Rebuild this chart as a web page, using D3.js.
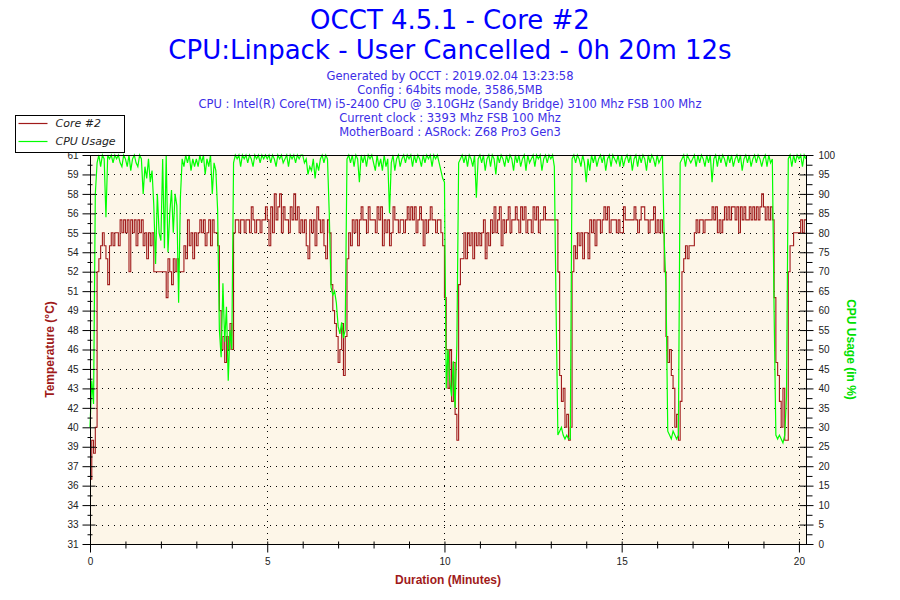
<!DOCTYPE html>
<html>
<head>
<meta charset="utf-8">
<script src="https://cdn.jsdelivr.net/npm/d3@7"></script>
<style>
body { margin: 0; background: #ffffff; }
svg { display: block; }
</style>
</head>
<body>
<div id="chart"></div>
<script>
const titleLines = ["OCCT 4.5.1 - Core #2", "CPU:Linpack - User Cancelled - 0h 20m 12s"]
const infoLines = [
    "Generated by OCCT : 2019.02.04 13:23:58",
    "Config : 64bits mode, 3586,5MB",
    "CPU : Intel(R) Core(TM) i5-2400 CPU @ 3.10GHz (Sandy Bridge) 3100 Mhz FSB 100 Mhz",
    "Current clock : 3393 Mhz FSB 100 Mhz",
    "MotherBoard : ASRock: Z68 Pro3 Gen3"
]
const seriesNames = ["Core #2", "CPU Usage"]
const axisTitles = ["Temperature (°C)", "CPU Usage (in %)", "Duration (Minutes)"]

// one sample every 0.05 min, one row per minute
const sampleStep = 0.05
const coreTemp = [
    36,39,38,40,52,53,54,55,54,53,51,54,55,54,55,55,54,56,55,56,
    55,56,52,56,55,56,54,56,55,56,54,55,53,55,54,55,52,52,52,52,
    52,52,52,50,53,52,51,53,52,53,52,52,52,54,53,56,54,55,53,55,
    54,55,56,55,56,54,55,56,54,56,55,55,54,49,46,47,45,47,46,48,
    46,55,56,56,55,56,56,55,56,56,55,57,56,55,56,56,55,56,56,57,
    56,54,57,55,58,56,57,58,55,57,56,56,55,57,56,58,56,57,55,56,
    55,56,54,53,56,55,56,54,57,56,55,56,54,53,56,55,51,49,48,47,
    45,46,48,44,47,53,55,54,56,55,56,54,56,57,56,56,55,57,56,56,
    56,55,57,56,57,54,56,55,56,54,55,57,56,56,55,56,56,55,56,57,
    56,57,56,57,55,56,57,56,54,56,55,56,57,56,56,55,56,56,55,54,
    50,46,43,46,42,45,41,39,51,53,53,55,53,55,54,55,53,55,54,55,
    54,55,56,53,55,54,56,55,57,55,56,57,54,56,55,56,57,55,56,56,
    57,56,55,57,56,57,55,56,56,55,57,56,57,55,56,56,57,56,56,56,
    56,56,56,56,52,44,42,43,40,41,39,40,52,54,53,55,54,55,53,55,
    55,53,56,55,56,54,56,56,55,56,57,56,57,55,56,56,56,55,56,55,
    55,57,56,56,56,56,56,57,56,55,56,57,57,56,56,55,56,56,57,55,
    56,55,56,55,52,47,45,46,44,43,40,41,39,42,52,53,54,53,54,54,
    54,55,56,55,56,56,55,56,56,56,56,57,56,57,55,56,55,56,57,56,
    57,56,57,57,56,57,55,57,56,57,56,56,57,56,57,56,57,56,57,58,
    57,56,57,56,57,56,50,45,44,42,40,43,39,39,52,54,54,55,55,55,
    55,56,55,56,56
]
const cpuUsage = [
    30,42,36,90,98,100,97,100,99,84,100,99,100,98,100,99,100,98,97,100,
    99,97,100,96,99,100,98,97,100,99,90,97,94,99,93,96,87,72,90,80,
    78,99,76,100,75,85,91,80,90,87,62,89,99,97,100,98,100,96,99,97,
    99,97,100,98,100,95,99,97,100,90,98,96,86,55,48,67,52,61,42,55,
    50,98,100,99,100,97,100,99,100,98,100,99,97,100,99,100,98,100,99,100,
    99,100,98,100,99,97,100,99,100,98,99,100,97,100,99,100,98,100,99,100,
    100,98,99,95,97,96,99,94,98,96,99,100,98,100,99,85,66,64,65,62,
    56,54,57,53,55,99,100,98,100,97,100,99,93,100,98,100,97,100,99,100,
    98,96,100,97,99,96,100,97,99,85,98,100,96,99,100,97,99,100,98,100,
    99,100,97,100,98,100,99,97,100,98,100,99,100,97,100,99,100,98,96,94,
    93,40,50,42,38,47,35,51,98,99,100,98,100,97,100,99,97,100,89,99,
    100,98,100,96,99,100,97,100,99,95,100,98,100,99,97,100,98,100,99,96,
    100,98,100,97,99,100,96,100,98,99,100,97,100,99,100,96,99,100,98,100,
    99,100,97,60,28,29,30,28,27,28,27,27,99,100,98,100,99,97,100,98,
    93,99,96,100,98,100,97,99,100,98,100,96,99,100,97,100,99,98,100,97,
    100,97,99,100,98,100,96,99,100,97,100,98,100,99,96,100,98,100,99,97,
    100,98,99,100,78,66,29,28,27,29,28,27,28,98,99,100,97,100,99,98,
    99,100,97,100,98,100,99,97,100,98,100,93,99,100,97,100,98,100,99,97,
    100,98,100,97,99,100,98,100,96,99,100,98,100,97,99,100,98,100,99,97,
    99,100,97,100,98,99,60,28,27,28,27,26,28,38,99,100,97,100,98,100,
    99,100,97,100,99
]

const timeTicks = [0, 5, 10, 15, 20]
const timeMinorTicks = [1, 2, 3, 4, 6, 7, 8, 9, 11, 12, 13, 14, 16, 17, 18, 19]
const cpuTicks = [0, 5, 10, 15, 20, 25, 30, 35, 40, 45, 50, 55, 60, 65, 70, 75, 80, 85, 90, 95, 100]
const tempTickLabels = ["31", "33", "34", "36", "37", "39", "40", "42", "43", "45", "46",
    "48", "49", "51", "52", "54", "55", "56", "58", "59", "61"]

const svgWidth = 900
const svgHeight = 600
const plot = { left: 90, right: 806, top: 155, bottom: 544 }

const tempColor = "#a01a1a"
const cpuColor = "#00ff00"
const titleColor = "#0000ff"
const infoColor = "#3c2ee6"

const svg = d3.select("#chart").append("svg")
    .attr("width", svgWidth)
    .attr("height", svgHeight)

const x = d3.scaleLinear().domain([0, 20.2]).range([plot.left, plot.right])
const yTemp = d3.scaleLinear().domain([31, 61]).range([plot.bottom, plot.top])
const yCpu = d3.scaleLinear().domain([0, 100]).range([plot.bottom, plot.top])

// titles
svg.selectAll(".title")
    .data(titleLines)
    .join("text")
    .attr("class", "title")
    .attr("x", svgWidth / 2)
    .attr("y", (d, i) => 29 + i * 30)
    .attr("text-anchor", "middle")
    .attr("font-family", "DejaVu Sans")
    .attr("font-size", 26)
    .attr("fill", titleColor)
    .text(d => d)

svg.selectAll(".info")
    .data(infoLines)
    .join("text")
    .attr("class", "info")
    .attr("x", svgWidth / 2)
    .attr("y", (d, i) => 80 + i * 14)
    .attr("text-anchor", "middle")
    .attr("font-family", "DejaVu Sans")
    .attr("font-size", 11.5)
    .attr("fill", infoColor)
    .text(d => d)

// plot background
svg.append("rect")
    .attr("x", plot.left)
    .attr("y", plot.top)
    .attr("width", plot.right - plot.left)
    .attr("height", plot.bottom - plot.top)
    .attr("fill", "#fdf6e8")

// dotted grid
const px = v => Math.round(v) + 0.5
svg.append("g").selectAll("line")
    .data(cpuTicks.slice(1, -1))
    .join("line")
    .attr("x1", plot.left)
    .attr("x2", plot.right)
    .attr("y1", d => px(yCpu(d)))
    .attr("y2", d => px(yCpu(d)))
    .attr("stroke", "#000")
    .attr("stroke-dasharray", "1,5")

svg.append("g").selectAll("line")
    .data(timeTicks.slice(1))
    .join("line")
    .attr("x1", d => px(x(d)))
    .attr("x2", d => px(x(d)))
    .attr("y1", plot.top)
    .attr("y2", plot.bottom)
    .attr("stroke", "#000")
    .attr("stroke-dasharray", "1,5")

// series
const tempLine = d3.line()
    .x((d, i) => x(i * sampleStep))
    .y(d => yTemp(d))
    .curve(d3.curveStepAfter)

const cpuLine = d3.line()
    .x((d, i) => x(i * sampleStep))
    .y(d => yCpu(d))

svg.append("path")
    .datum(coreTemp)
    .attr("d", tempLine)
    .attr("fill", "none")
    .attr("stroke", tempColor)
    .attr("stroke-width", 1.1)

svg.append("path")
    .datum(cpuUsage)
    .attr("d", cpuLine)
    .attr("fill", "none")
    .attr("stroke", cpuColor)
    .attr("stroke-width", 1.2)

// frame
svg.append("rect")
    .attr("x", plot.left + 0.5)
    .attr("y", plot.top + 0.5)
    .attr("width", plot.right - plot.left)
    .attr("height", plot.bottom - plot.top)
    .attr("fill", "none")
    .attr("stroke", "#000")

const styleAxis = g => {
    g.select(".domain").remove()
    g.selectAll("text")
        .attr("font-family", "Liberation Sans")
        .attr("font-size", 10)
        .attr("fill", "#222")
}

// left temperature axis
const leftAxis = svg.append("g")
    .attr("transform", `translate(${plot.left + 0.5},0)`)
    .call(d3.axisLeft(yTemp)
        .tickValues(cpuTicks.map(p => 31 + p * 0.3))
        .tickFormat((d, i) => tempTickLabels[i])
        .tickSize(8)
        .tickPadding(4))
    .call(styleAxis)
leftAxis.selectAll(".tick line").attr("x1", 5)

svg.append("g")
    .attr("transform", `translate(${plot.left + 0.5},0)`)
    .call(d3.axisLeft(yTemp)
        .tickValues(cpuTicks.slice(1).map(p => 31 + (p - 2.5) * 0.3))
        .tickFormat("")
        .tickSize(3))
    .call(styleAxis)
    .selectAll(".tick line").attr("x1", 2)

// right cpu axis
const rightAxis = svg.append("g")
    .attr("transform", `translate(${plot.right + 0.5},0)`)
    .call(d3.axisRight(yCpu)
        .tickValues(cpuTicks)
        .tickSize(7)
        .tickPadding(5))
    .call(styleAxis)
rightAxis.selectAll(".tick line").attr("x1", -7)

svg.append("g")
    .attr("transform", `translate(${plot.right + 0.5},0)`)
    .call(d3.axisRight(yCpu)
        .tickValues(cpuTicks.slice(1).map(p => p - 2.5))
        .tickFormat("")
        .tickSize(6))
    .call(styleAxis)

// bottom time axis
const bottomAxis = svg.append("g")
    .attr("transform", `translate(0,${plot.bottom + 0.5})`)
    .call(d3.axisBottom(x)
        .tickValues(timeTicks)
        .tickFormat(d3.format("d"))
        .tickSize(8)
        .tickPadding(5))
    .call(styleAxis)
bottomAxis.selectAll(".tick line").attr("y1", -3)

svg.append("g")
    .attr("transform", `translate(0,${plot.bottom + 0.5})`)
    .call(d3.axisBottom(x)
        .tickValues(timeMinorTicks)
        .tickFormat("")
        .tickSize(4))
    .call(styleAxis)
    .selectAll(".tick line").attr("y1", -3)

// axis titles
svg.append("text")
    .attr("transform", `translate(54, ${(plot.top + plot.bottom) / 2}) rotate(-90)`)
    .attr("text-anchor", "middle")
    .attr("font-family", "Liberation Sans")
    .attr("font-weight", "bold")
    .attr("font-size", 12)
    .attr("fill", tempColor)
    .text(axisTitles[0])

svg.append("text")
    .attr("transform", `translate(847, ${(plot.top + plot.bottom) / 2}) rotate(90)`)
    .attr("text-anchor", "middle")
    .attr("font-family", "Liberation Sans")
    .attr("font-weight", "bold")
    .attr("font-size", 12)
    .attr("fill", "#00e000")
    .text(axisTitles[1])

svg.append("text")
    .attr("x", (plot.left + plot.right) / 2)
    .attr("y", 584)
    .attr("text-anchor", "middle")
    .attr("font-family", "Liberation Sans")
    .attr("font-weight", "bold")
    .attr("font-size", 12)
    .attr("fill", tempColor)
    .text(axisTitles[2])

// legend
const legend = svg.append("g").attr("transform", "translate(15.5,115.5)")
legend.append("rect")
    .attr("width", 109)
    .attr("height", 37)
    .attr("fill", "#fff")
    .attr("stroke", "#000")

const legendItems = legend.selectAll(".item")
    .data(seriesNames)
    .join("g")
    .attr("class", "item")
    .attr("transform", (d, i) => `translate(0, ${8 + i * 18})`)

legendItems.append("line")
    .attr("x1", 3)
    .attr("x2", 32)
    .attr("stroke", (d, i) => i === 0 ? tempColor : cpuColor)
    .attr("stroke-width", 1.2)

legendItems.append("text")
    .attr("x", 40)
    .attr("dy", "0.35em")
    .attr("font-family", "DejaVu Sans")
    .attr("font-style", "italic")
    .attr("font-size", 11)
    .attr("fill", "#222")
    .text(d => d)
</script>
</body>
</html>
